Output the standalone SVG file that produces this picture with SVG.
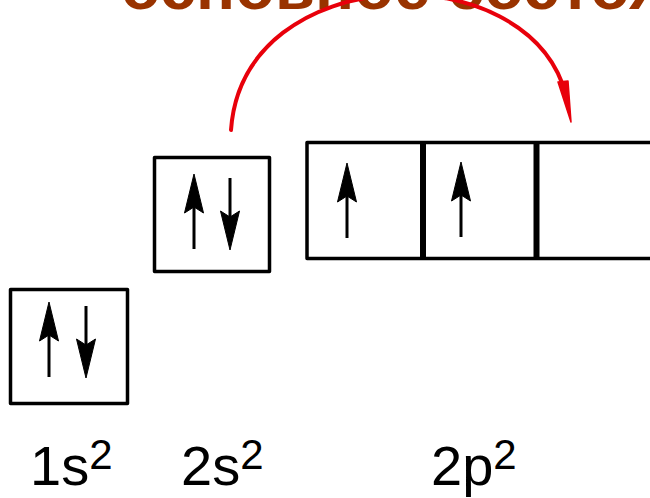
<svg xmlns="http://www.w3.org/2000/svg" width="650" height="498" viewBox="0 0 650 498">
<defs>
<style>
.box{fill:none;stroke:#000;stroke-width:3.5;stroke-linejoin:round}
.div{stroke:#000;stroke-width:6}
.spin{stroke:#000;stroke-width:3;fill:none}
.head{fill:#000;stroke:#000;stroke-width:1}
.lbl{font-family:"Liberation Sans",Arial,sans-serif;font-size:56px;fill:#000}
.sup{font-size:42px}
.title{font-family:"Liberation Sans",Arial,sans-serif;font-size:65px;font-weight:bold;fill:#993300}
.jump{fill:none;stroke:#e8000b;stroke-width:4;stroke-linecap:round}
</style>
<g id="upArrow">
<line class="spin" x1="0" y1="30" x2="0" y2="75"/>
<polygon class="head" points="0,0 9.5,39 0,33 -9.5,39"/>
</g>
<g id="downArrow">
<line class="spin" x1="0" y1="0" x2="0" y2="42"/>
<polygon class="head" points="0,72 9.5,33 0,39 -9.5,33"/>
</g>
</defs>
<rect width="650" height="498" fill="#fff"/>
<text class="title" x="121" y="9">основное состоя</text>
<g id="orbital-1s">
<rect class="box" x="10.5" y="289.5" width="117" height="114"/>
<use href="#upArrow" x="49" y="302"/>
<use href="#downArrow" x="86" y="306"/>
</g>
<g id="orbital-2s">
<rect class="box" x="154.5" y="157.5" width="115" height="114"/>
<use href="#upArrow" x="194" y="174"/>
<use href="#downArrow" x="230" y="178"/>
</g>
<g id="orbital-2p">
<rect class="box" x="307" y="142.5" width="400" height="116"/>
<line class="div" x1="423" y1="142" x2="423" y2="259"/>
<line class="div" x1="536.5" y1="142" x2="536.5" y2="259"/>
<use href="#upArrow" x="347" y="163"/>
<use href="#upArrow" x="461" y="162"/>
</g>
<g id="connectors">
<path class="jump" d="M231,130 C243,-40 528,-48 566,95"/>
<polygon points="558,82 568,81 571,122" fill="#e8000b" stroke="#e8000b" stroke-width="1.5" stroke-linejoin="round"/>
</g>
<g id="labels">
<text class="lbl" x="30" y="485">1s<tspan class="sup" dy="-16">2</tspan></text>
<text class="lbl" x="181" y="485">2s<tspan class="sup" dy="-16">2</tspan></text>
<text class="lbl" x="431" y="485">2p<tspan class="sup" dy="-16">2</tspan></text>
</g>
</svg>
